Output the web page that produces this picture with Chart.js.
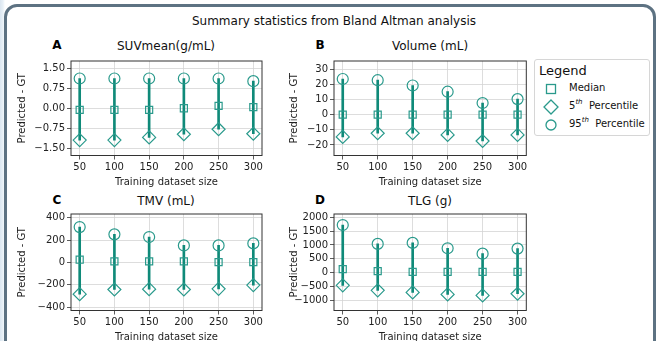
<!DOCTYPE html>
<html>
<head>
<meta charset="utf-8">
<script src="https://cdn.jsdelivr.net/npm/chart.js@4.4.1/dist/chart.umd.min.js"></script>
<style>
html,body{margin:0;padding:0;width:657px;height:341px;overflow:hidden;background:#fff;font-family:"DejaVu Sans",sans-serif;}
.bg{position:absolute;left:0;top:0;width:657px;height:341px;background:linear-gradient(90deg,#dbe6f0 0,#e9f1f7 3px,#fff 5px);}
.card{position:absolute;left:4px;top:4px;width:652px;height:380px;box-sizing:border-box;border:3px solid #5d7282;border-radius:13px;background:#fff;}
.title{position:absolute;left:0;top:13px;width:668px;text-align:center;font-size:12px;line-height:16px;color:#111;}
.letter{position:absolute;font-size:12px;font-weight:bold;line-height:14px;color:#000;transform:translate(-50%,-50%);}
.ptitle{position:absolute;font-size:12px;line-height:16px;color:#111;white-space:nowrap;transform:translate(-50%,-50%);}
canvas{position:absolute;}
.legend{position:absolute;left:534px;top:59px;width:116px;height:77px;box-sizing:border-box;border:1px solid #d6d6d6;border-radius:3px;background:#fff;}
.legend .lt{position:absolute;left:4px;top:3px;font-size:13px;line-height:16px;color:#111;}
.legend .row{position:absolute;left:0;height:18px;width:114px;}
.legend svg{position:absolute;left:8px;top:2px;}
.legend .lab{position:absolute;left:34px;top:2px;font-size:10px;line-height:14px;color:#111;white-space:pre;}
.legend sup{font-size:7px;font-style:italic;vertical-align:5px;line-height:0;}
</style>
</head>
<body>
<div class="bg"></div>
<div class="card"></div>
<div class="title">Summary statistics from Bland Altman analysis</div>
<div class="letter" style="left:57px;top:45px">A</div>
<div class="letter" style="left:320px;top:45px">B</div>
<div class="letter" style="left:57px;top:200px">C</div>
<div class="letter" style="left:320px;top:200px">D</div>
<div class="ptitle" style="left:166px;top:46px">SUVmean(g/mL)</div>
<div class="ptitle" style="left:430px;top:46px">Volume (mL)</div>
<div class="ptitle" style="left:166px;top:201px">TMV (mL)</div>
<div class="ptitle" style="left:430px;top:201px">TLG (g)</div>
<canvas id="cA" width="270" height="160" style="left:0;top:30px"></canvas>
<canvas id="cB" width="262" height="160" style="left:272px;top:30px"></canvas>
<canvas id="cC" width="270" height="162" style="left:0;top:183px"></canvas>
<canvas id="cD" width="262" height="162" style="left:272px;top:183px"></canvas>
<div class="legend" id="legend"><div class="lt">Legend</div></div>
<script>
// DATA
const sizes = [50, 100, 150, 200, 250, 300];
const xTicks = [50, 100, 150, 200, 250, 300];
const seriesNames = ["Median", "5th  Percentile", "95th  Percentile"];

const suvMedian = [-0.06, -0.06, -0.06, 0.00, 0.09, 0.04];
const suvP5 = [-1.20, -1.20, -1.10, -0.98, -0.79, -0.96];
const suvP95 = [1.12, 1.12, 1.12, 1.12, 1.12, 1.02];
const suvTicks = [-1.5, -0.75, 0, 0.75, 1.5];
const suvTickLabels = ["\u22121.50", "\u22120.75", "0.00", "0.75", "1.50"];

const volMedian = [0, 0, 0, 0, 0, 0];
const volP5 = [-14.7, -12.3, -12.3, -13.4, -17.4, -13.4];
const volP95 = [23.6, 22.8, 19.3, 15.2, 7.7, 10.3];
const volTicks = [-20, -10, 0, 10, 20, 30];
const volTickLabels = ["\u221220", "\u221210", "0", "10", "20", "30"];

const tmvMedian = [24, 9, 9, 9, 3, 3];
const tmvP5 = [-284, -242, -239, -242, -236, -203];
const tmvP95 = [316, 251, 227, 152, 152, 170];
const tmvTicks = [-400, -200, 0, 200, 400];
const tmvTickLabels = ["\u2212400", "\u2212200", "0", "200", "400"];

const tlgMedian = [122, 49, 24, 24, 24, 24];
const tlgP5 = [-463, -646, -720, -793, -829, -768];
const tlgP95 = [1720, 1037, 1073, 878, 683, 866];
const tlgTicks = [-1000, -500, 0, 500, 1000, 1500, 2000];
const tlgTickLabels = ["\u22121000", "\u2212500", "0", "500", "1000", "1500", "2000"];

// STYLE
const lineColor = "#0f8a79";
const markColor = "#2a9a8c";
const markers = [
  {style: "rect", radius: 5},
  {style: "rectRot", radius: 6.5},
  {style: "circle", radius: 5.5}
];

Chart.defaults.font.family = "'DejaVu Sans', sans-serif";
Chart.defaults.color = "#222";

// FRAME
const framePlugin = {
  id: "frame",
  beforeDatasetsDraw(chart){
    const {ctx, chartArea: a} = chart;
    ctx.save();
    ctx.strokeStyle = "#333";
    ctx.lineWidth = 1;
    ctx.strokeRect(a.left, a.top, a.right - a.left, a.bottom - a.top);
    ctx.restore();
  }
};

function makePanel(id, p){
  let series = [p.med, p.p5, p.p95];
  let datasets = [{
    type: "bar",
    data: sizes.map((x, i) => ({x, y: [p.p5[i], p.p95[i]]})),
    backgroundColor: lineColor,
    barThickness: 2,
    grouped: false,
    order: 2
  }];
  series.forEach((s, k) => {
    datasets.push({
      type: "scatter",
      label: seriesNames[k],
      data: sizes.map((x, i) => ({x, y: s[i]})),
      pointStyle: markers[k].style,
      pointRadius: markers[k].radius,
      pointBorderColor: markColor,
      pointBackgroundColor: "rgba(0,0,0,0)",
      pointBorderWidth: 1.2,
      order: 1
    });
  });

  new Chart(document.getElementById(id), {
    data: {datasets},
    options: {
      responsive: false,
      animation: false,
      devicePixelRatio: 1,
      layout: {padding: {left: 0, right: p.padRight, top: 31, bottom: 0}},
      plugins: {
        legend: {display: false},
        tooltip: {enabled: false}
      },
      scales: {
        x: {
          type: "linear", min: 37.5, max: 312.5, offset: false,
          afterBuildTicks: s => { s.ticks = xTicks.map(v => ({value: v})); },
          afterFit: s => { s.height = 34.5; },
          ticks: {font: {size: 10}, color: "#222", padding: 2, maxRotation: 0, autoSkip: false, callback: v => String(v)},
          grid: {color: "#d4d4d4", lineWidth: 0.8, tickLength: 4, tickColor: "#333", offset: false},
          border: {display: false},
          title: {display: true, text: "Training dataset size", font: {size: 10}, color: "#222", padding: {top: 0, bottom: 2}}
        },
        y: {
          type: "linear", min: p.min, max: p.max,
          afterBuildTicks: s => { s.ticks = p.ticks.map(v => ({value: v})); },
          afterFit: s => { s.width = p.yAxisW; },
          ticks: {font: {size: 10}, color: "#222", padding: 2, autoSkip: false, callback: (v, i) => p.labels[i]},
          grid: {color: "#d4d4d4", lineWidth: 0.8, tickLength: 4, tickColor: "#333"},
          border: {display: false},
          title: {display: true, text: "Predicted - GT", font: {size: 10}, color: "#222", padding: {top: 16, bottom: 0}}
        }
      }
    },
    plugins: [framePlugin]
  });
}

makePanel("cA", {med: suvMedian, p5: suvP5, p95: suvP95, ticks: suvTicks, labels: suvTickLabels, min: -1.78, max: 1.78, yAxisW: 71, padRight: 8});
makePanel("cB", {med: volMedian, p5: volP5, p95: volP95, ticks: volTicks, labels: volTickLabels, min: -27, max: 35.5, yAxisW: 62, padRight: 7});
makePanel("cC", {med: tmvMedian, p5: tmvP5, p95: tmvP95, ticks: tmvTicks, labels: tmvTickLabels, min: -430, max: 433, yAxisW: 71, padRight: 8});
makePanel("cD", {med: tlgMedian, p5: tlgP5, p95: tlgP95, ticks: tlgTicks, labels: tlgTickLabels, min: -1375, max: 2120, yAxisW: 62, padRight: 7});

// LEGEND
function markerSvg(style){
  let shape = "";
  if(style === "rect") shape = '<rect x="3.5" y="3.5" width="9" height="9" fill="none" stroke="' + markColor + '" stroke-width="1.3"/>';
  if(style === "rectRot") shape = '<polygon points="8,1 15,8 8,15 1,8" fill="none" stroke="' + markColor + '" stroke-width="1.3"/>';
  if(style === "circle") shape = '<circle cx="8" cy="8" r="5" fill="none" stroke="' + markColor + '" stroke-width="1.3"/>';
  return '<svg width="16" height="16" viewBox="0 0 16 16">' + shape + '</svg>';
}
const legendBox = document.getElementById("legend");
seriesNames.forEach((name, k) => {
  let row = document.createElement("div");
  row.className = "row";
  row.style.top = (19 + k * 18) + "px";
  row.innerHTML = markerSvg(markers[k].style) + '<span class="lab">' + name.replace(/(\d+)(th)/, "$1<sup>$2</sup>") + '</span>';
  legendBox.appendChild(row);
});
</script>
</body>
</html>
